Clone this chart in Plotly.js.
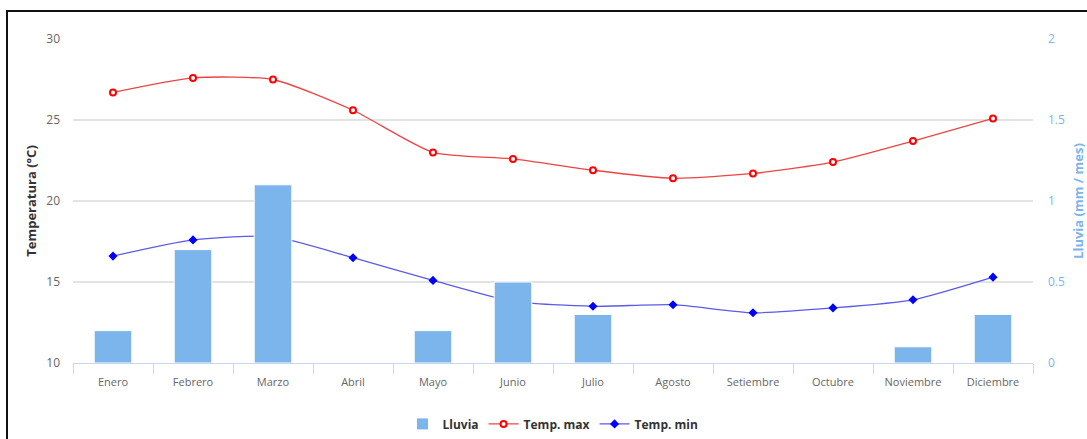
<!DOCTYPE html>
<html>
<head>
<meta charset="utf-8">
<script src="https://cdn.plot.ly/plotly-3.0.1.min.js"></script>
<style>
  html, body { margin:0; padding:0; background:#fff; }
  #wrap { position:relative; width:1087px; height:439px; overflow:hidden; }
  #chart { position:absolute; left:0; top:0; width:1087px; height:439px; }
  #frame { position:absolute; left:6px; top:10px; width:1200px; height:600px;
           border-left:2px solid #111; border-top:2px solid #111; pointer-events:none; }
</style>
</head>
<body>
<div id="wrap">
  <div id="chart"></div>
  <div id="frame"></div>
</div>
<script>
const months = ["Enero","Febrero","Marzo","Abril","Mayo","Junio","Julio","Agosto","Setiembre","Octubre","Noviembre","Diciembre"];
const lluvia = [0.2, 0.7, 1.1, 0, 0.2, 0.5, 0.3, 0, 0, 0, 0.1, 0.3];
const tempMax = [26.7, 27.6, 27.5, 25.6, 23.0, 22.6, 21.9, 21.4, 21.7, 22.4, 23.7, 25.1];
const tempMin = [16.6, 17.6, 17.8, 16.5, 15.1, 13.8, 13.5, 13.6, 13.1, 13.4, 13.9, 15.3];

const font = "'Open Sans', 'Liberation Sans', sans-serif";

const traces = [
  {
    type: 'bar', name: 'Lluvia', x: months, y: lluvia, yaxis: 'y2',
    marker: { color: '#7cb5ec', line: { color: '#ffffff', width: 1 } }
  },
  {
    type: 'scatter', mode: 'lines+markers', name: 'Temp. max', x: months, y: tempMax,
    line: { color: '#ee4444', width: 1.3, shape: 'spline', smoothing: 0.6 },
    marker: { symbol: 'circle', size: 6, color: '#ffffff', line: { color: '#ff0000', width: 2 } }
  },
  {
    type: 'scatter', mode: 'lines+markers', name: 'Temp. min', x: months, y: tempMin,
    line: { color: '#5b5be8', width: 1.3, shape: 'spline', smoothing: 0.6 },
    marker: { symbol: 'diamond', size: 7, color: '#0000ff' }
  }
];

const layout = {
  width: 1087, height: 439,
  margin: { l: 73, r: 54, t: 39, b: 76, autoexpand: false },
  paper_bgcolor: '#ffffff', plot_bgcolor: '#ffffff',
  font: { family: font, size: 12, color: '#666666' },
  bargap: 0.53,
  showlegend: true,
  legend: {
    orientation: 'h', x: 0.5, xanchor: 'center', y: -0.188, yanchor: 'middle',
    font: { family: font, size: 12, color: '#333333', weight: 'bold' },
    traceorder: 'normal', itemwidth: 30
  },
  xaxis: {
    type: 'category', range: [-0.5, 11.5], showgrid: false, zeroline: false,
    showline: true, linecolor: '#ccd6eb', linewidth: 1,
    ticks: 'outside', tickson: 'boundaries', ticklen: 10, tickcolor: '#ccd6eb',
    ticklabelstandoff: 9,
    tickfont: { family: font, size: 11, color: '#666666' },
    fixedrange: true
  },
  yaxis: {
    range: [10, 30], dtick: 5, tick0: 10,
    showgrid: true, gridcolor: '#e3e3e3', gridwidth: 1.5, zeroline: false,
    showline: false, ticks: '', ticklabelstandoff: 12,
    tickfont: { family: font, size: 12, color: '#666666' },
    title: { text: 'Temperatura (°C)', standoff: 6,
             font: { family: font, size: 13, color: '#333333', weight: 'bold' } }
  },
  yaxis2: {
    overlaying: 'y', side: 'right', range: [0, 2], dtick: 0.5, tick0: 0,
    showgrid: false, zeroline: false, showline: false, ticks: '', ticklabelstandoff: 14,
    tickfont: { family: font, size: 12, color: '#7cb5ec' },
    title: { text: 'Lluvia (mm / mes)', standoff: 12,
             font: { family: font, size: 13, color: '#7cb5ec', weight: 'bold' } }
  }
};

Plotly.newPlot('chart', traces, layout, { displayModeBar: false, staticPlot: true });
</script>
</body>
</html>
